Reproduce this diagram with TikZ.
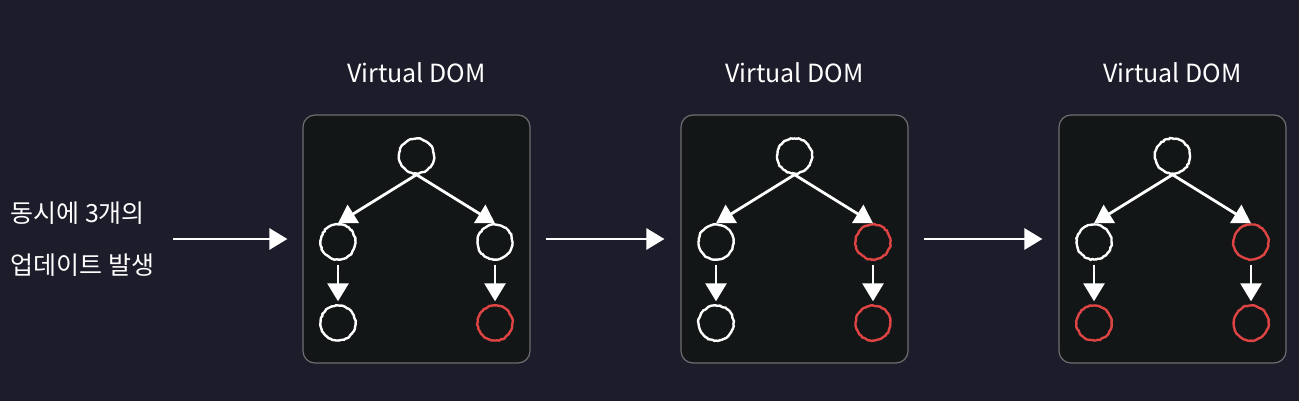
\documentclass[tikz,border=0pt]{standalone}
\usepackage{fontspec}
\setmainfont{Noto Sans CJK KR}
\usetikzlibrary{arrows.meta,positioning,calc,decorations.pathmorphing}

\definecolor{bgdark}{HTML}{1C1C2A}
\definecolor{panelfill}{HTML}{131616}
\definecolor{panelline}{HTML}{6E6E72}
\definecolor{hotred}{HTML}{DE4444}

\tikzset{
  chalk/.style={decorate,decoration={random steps,segment length=1pt,amplitude=0.25pt}},
  vnode/.style={circle,draw=white,line width=1.2pt,minimum size=17.5pt,inner sep=0pt,chalk},
  vhot/.style={vnode,draw=hotred},
  panel/.style={draw=panelline,fill=panelfill,rounded corners=6pt,line width=0.6pt,
    minimum width=113.5pt,minimum height=124pt,inner sep=0pt},
  chalkarrow/.style={white,line width=1.4pt,-{Triangle[length=9pt,width=10.5pt]}},
  ttl/.style={text=white,font=\fontsize{12.5}{14}\selectfont}
}

\begin{document}
\begin{tikzpicture}[x=0.5pt,y=-0.5pt]
  \fill[bgdark] (0,0) rectangle (1299,401);
  \useasboundingbox (0,0) rectangle (1299,401);

  \node[anchor=west,align=left,text=white,inner sep=0pt,
    font=\fontsize{12.5}{26}\selectfont] (intro) at (10,239) {동시에 3개의\\업데이트 발생};

  % one panel per update step
  \foreach \i/\cx/\rA/\rB/\rC in {1/416.5/vnode/vnode/vhot, 2/794.5/vhot/vnode/vhot, 3/1172.5/vhot/vhot/vhot} {
    \node[panel] (box\i) at (\cx,239) {};
    \node[ttl] (title\i) at (\cx,73) {Virtual DOM};
    \node[vnode] (root\i) at (\cx,156) {};
    \node[vnode] (left\i) at (\cx-78.5,242) {};
    \node[\rA] (right\i) at (\cx+78.5,242) {};
    \node[\rB] (lleaf\i) at (\cx-78.5,323) {};
    \node[\rC] (rleaf\i) at (\cx+78.5,323) {};
    \draw[chalkarrow] (root\i.south) -- (left\i.north);
    \draw[chalkarrow] (root\i.south) -- (right\i.north);
    \draw[chalkarrow,shorten <=2pt,shorten >=1.5pt] (left\i.south) -- (lleaf\i.north);
    \draw[chalkarrow,shorten <=2pt,shorten >=1.5pt] (right\i.south) -- (rleaf\i.north);
  }

  \draw[chalkarrow,shorten <=9.5pt,shorten >=7.5pt] (intro.east) -- (box1.west);
  \draw[chalkarrow,shorten <=7.5pt,shorten >=8pt] (box1.east) -- (box2.west);
  \draw[chalkarrow,shorten <=7.5pt,shorten >=8pt] (box2.east) -- (box3.west);
\end{tikzpicture}
\end{document}
